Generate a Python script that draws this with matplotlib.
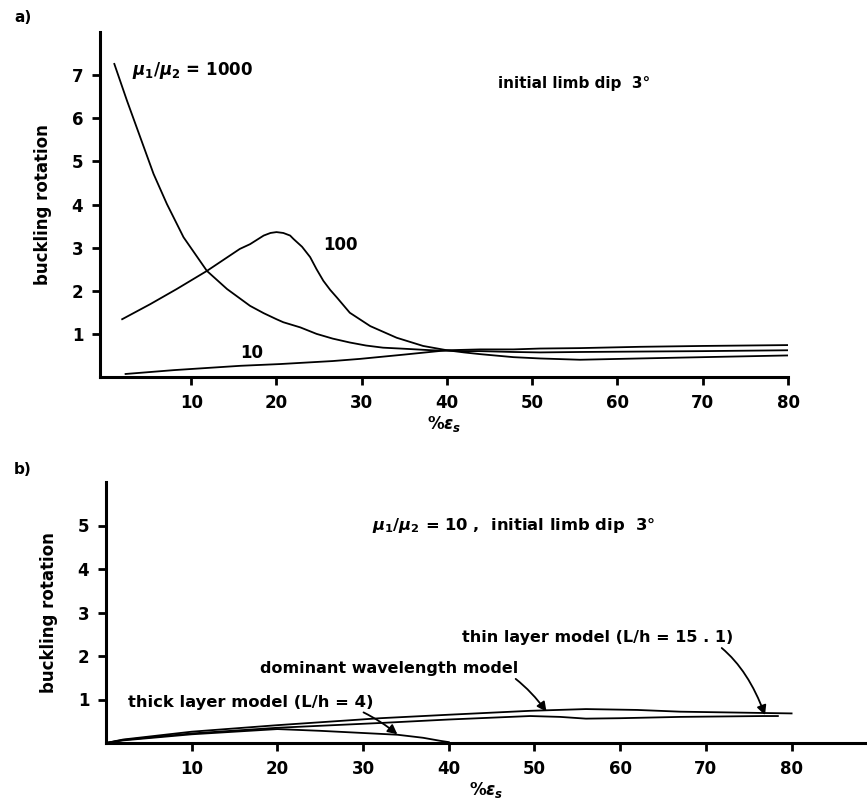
import matplotlib.pyplot as plt

plt.rcParams['font.family'] = ['DejaVu Sans']
plt.rcParams['font.weight'] = 'bold'
plt.rcParams['axes.labelweight'] = 'bold'
plt.rcParams['mathtext.fontset'] = 'custom'
plt.rcParams['mathtext.rm'] = 'DejaVu Sans:bold'
plt.rcParams['mathtext.it'] = 'DejaVu Sans:italic:bold'
plt.rcParams['mathtext.bf'] = 'DejaVu Sans:bold'

# panel a: mu1/mu2 = 1000, 100, 10
x_1000 = [0.98, 2.46, 4.02, 5.58, 7.15, 9.1, 11.84, 14.2, 16.9, 18.5, 20.0, 20.8, 22.8, 24.7,
          26.6, 28.6, 30.5, 32.5, 34.5, 36.4, 38.2, 40.0, 42.0, 43.9, 47.8, 50.9, 55.6, 62.6,
          70.0, 80.0]
y_1000 = [7.26, 6.41, 5.56, 4.71, 4.01, 3.24, 2.46, 2.04, 1.65, 1.48, 1.34, 1.27, 1.15, 1.0,
          0.89, 0.8, 0.73, 0.68, 0.66, 0.64, 0.62, 0.61, 0.6, 0.6, 0.58, 0.57, 0.58, 0.59,
          0.6, 0.62]

x_100 = [1.9, 5.2, 8.3, 11.84, 15.7, 16.9, 18.5, 19.3, 20.0, 20.8, 21.6, 22.0, 23.0, 23.95,
         24.7, 25.5, 26.3, 27.1, 28.6, 31.0, 34.1, 37.2, 40.0, 42.0, 43.9, 47.8, 50.9, 55.6,
         62.6, 70.0, 80.0]
y_100 = [1.34, 1.69, 2.04, 2.46, 2.97, 3.08, 3.28, 3.34, 3.36, 3.34, 3.28, 3.2, 3.02, 2.78,
         2.5, 2.23, 2.02, 1.84, 1.49, 1.18, 0.91, 0.72, 0.62, 0.57, 0.53, 0.46, 0.43, 0.4,
         0.43, 0.46, 0.5]

x_10 = [2.3, 8.0, 15.8, 20.4, 26.6, 29.8, 35.0, 40.0, 43.9, 47.8, 50.9, 55.6, 62.6, 70.0, 80.0]
y_10 = [0.07, 0.16, 0.26, 0.3, 0.37, 0.42, 0.52, 0.62, 0.64, 0.64, 0.66, 0.67, 0.7, 0.72, 0.74]

# panel b: mu1/mu2 = 10
x_dom = [0, 2, 10, 20, 32, 40, 49.5, 56, 62, 67, 76.7, 80]
y_dom = [0, 0.08, 0.26, 0.41, 0.57, 0.65, 0.74, 0.78, 0.76, 0.72, 0.69, 0.68]

x_thin = [0, 2, 10, 20, 32, 40, 49.5, 53, 56, 60, 67, 76.7, 78.4]
y_thin = [0, 0.07, 0.22, 0.35, 0.46, 0.54, 0.62, 0.6, 0.56, 0.57, 0.6, 0.62, 0.62]

x_thick = [0, 2, 10, 20, 25, 30, 34, 37, 39, 40]
y_thick = [0, 0.06, 0.2, 0.32, 0.28, 0.23, 0.19, 0.12, 0.05, 0.02]

xticks = [10, 20, 30, 40, 50, 60, 70, 80]

fig = plt.figure(figsize=(8.67, 8.11), dpi=100)
ax1 = fig.add_axes([100/867, 1 - 377/811, 688/867, 345/811])
ax2 = fig.add_axes([106/867, 1 - 743/811, 761/867, 261/811])

for ax in (ax1, ax2):
    for s in ('top', 'right'):
        ax.spines[s].set_visible(False)
    for s in ('left', 'bottom'):
        ax.spines[s].set_linewidth(2.2)
    ax.tick_params(direction='out', length=6, width=2, labelsize=12, pad=6)
    ax.set_xticks(xticks)
    ax.set_ylabel('buckling rotation', fontsize=12, labelpad=14)
    ax.set_xlabel(r'%$\epsilon_s$', fontsize=12, labelpad=2)

ax1.plot(x_1000, y_1000, color='black', lw=1.3)
ax1.plot(x_100, y_100, color='black', lw=1.3)
ax1.plot(x_10, y_10, color='black', lw=1.3)
ax1.set_xlim(-0.7, 80)
ax1.set_ylim(0, 8)
ax1.set_yticks([1, 2, 3, 4, 5, 6, 7])
ax1.text(3.0, 7.1, r'$\mu_1/\mu_2$ = 1000', fontsize=12, va='center')
ax1.text(46, 6.8, 'initial limb dip  3°', fontsize=11, va='center')
ax1.text(25.5, 3.05, '100', fontsize=12, va='center')
ax1.text(15.7, 0.56, '10', fontsize=12, va='center')

ax2.plot(x_dom, y_dom, color='black', lw=1.3)
ax2.plot(x_thin, y_thin, color='black', lw=1.3)
ax2.plot(x_thick, y_thick, color='black', lw=1.3)
ax2.set_xlim(0, 88.8)
ax2.set_ylim(0, 6)
ax2.set_yticks([1, 2, 3, 4, 5])
ax2.text(31, 5.0, r'$\mu_1/\mu_2$ = 10 ,  initial limb dip  3°', fontsize=11.8, va='center')

arrow = dict(arrowstyle='-|>', color='black', lw=1.3, mutation_scale=14)
ax2.annotate('thick layer model (L/h = 4)', xy=(34, 0.2), xytext=(2.6, 0.94),
             fontsize=11.8, va='center',
             arrowprops=dict(connectionstyle='arc3,rad=-0.25', shrinkA=0, shrinkB=0, **arrow))
ax2.annotate('dominant wavelength model', xy=(51.4, 0.72), xytext=(18, 1.71),
             fontsize=11.5, va='center',
             arrowprops=dict(connectionstyle='arc3,rad=-0.4', shrinkA=0, shrinkB=0, **arrow))
ax2.annotate('thin layer model (L/h = 15 . 1)', xy=(76.9, 0.64), xytext=(41.5, 2.42),
             fontsize=11.5, va='center',
             arrowprops=dict(connectionstyle='arc3,rad=-0.5', shrinkA=0, shrinkB=0, **arrow))

fig.text(14/867, 1 - 18/811, 'a)', fontsize=11, va='center')
fig.text(14/867, 1 - 470/811, 'b)', fontsize=11, va='center')

plt.savefig('out.png', dpi=100)
